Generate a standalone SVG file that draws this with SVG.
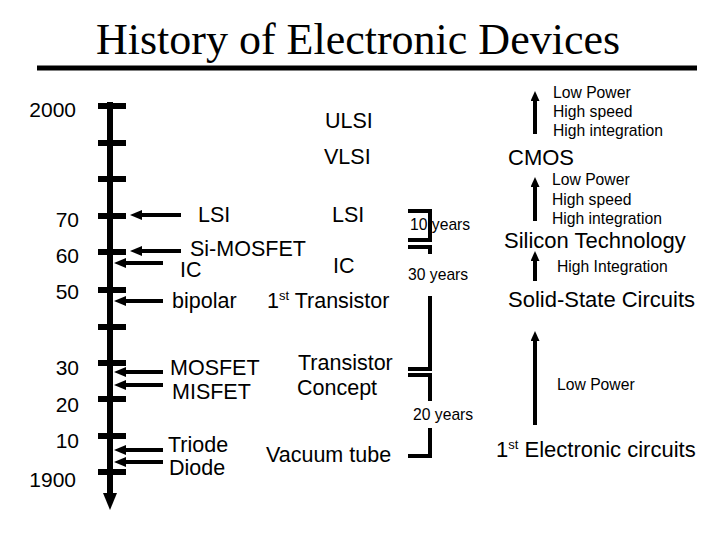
<svg xmlns="http://www.w3.org/2000/svg" width="720" height="540" viewBox="0 0 720 540">
<defs>
<style>
text{font-family:"Liberation Sans",Arial,sans-serif;fill:#000}
.t{font-size:21.5px}
.r{font-size:22px}
.s{font-size:15.7px}
.y{font-size:21px;text-anchor:end}
.title{font-family:"Liberation Serif","Times New Roman",serif;font-size:44px;text-anchor:middle}
.ar{stroke:#000;stroke-width:4;fill:none;marker-end:url(#ah)}
.up{stroke:#000;stroke-width:4;fill:none;marker-end:url(#uh)}
.br{stroke:#000;stroke-width:4;fill:none}
.tick{stroke:#000;stroke-width:6}
</style>
<marker id="ah" markerWidth="12" markerHeight="10" refX="6" refY="5" orient="auto" markerUnits="userSpaceOnUse"><path d="M0,0 L12,5 L0,10 z" fill="#000"/></marker>
<marker id="uh" markerWidth="10" markerHeight="9" refX="4" refY="4.5" orient="auto" markerUnits="userSpaceOnUse"><path d="M0,0 L10,4.5 L0,9 z" fill="#000"/></marker>
</defs>
<rect width="720" height="540" fill="#fff"/>
<g id="title">
<text class="title" x="358" y="54">History of Electronic Devices</text>
<line x1="37" y1="68" x2="697" y2="68" stroke="#000" stroke-width="5"/>
</g>
<g id="timeline">
<line x1="110" y1="102" x2="110" y2="496" stroke="#000" stroke-width="6"/>
<polygon points="103,493 117,493 110,510" fill="#000"/>
<line class="tick" x1="98" y1="106" x2="126" y2="106"/>
<line class="tick" x1="98" y1="143" x2="126" y2="143"/>
<line class="tick" x1="98" y1="179" x2="126" y2="179"/>
<line class="tick" x1="98" y1="216" x2="126" y2="216"/>
<line class="tick" x1="98" y1="252" x2="126" y2="252"/>
<line class="tick" x1="98" y1="290" x2="126" y2="290"/>
<line class="tick" x1="98" y1="327" x2="126" y2="327"/>
<line class="tick" x1="98" y1="363" x2="126" y2="363"/>
<line class="tick" x1="98" y1="399" x2="126" y2="399"/>
<line class="tick" x1="98" y1="436" x2="126" y2="436"/>
<line class="tick" x1="98" y1="472" x2="126" y2="472"/>
<text class="y" x="76" y="117">2000</text>
<text class="y" x="79" y="227">70</text>
<text class="y" x="79" y="263">60</text>
<text class="y" x="79" y="299">50</text>
<text class="y" x="79" y="375">30</text>
<text class="y" x="79" y="412">20</text>
<text class="y" x="79" y="448">10</text>
<text class="y" x="76" y="487">1900</text>
</g>
<g id="connectors">
<line class="ar" x1="181" y1="215" x2="136" y2="215"/>
<line class="ar" x1="181" y1="251" x2="136" y2="251"/>
<line class="ar" x1="163" y1="263" x2="120" y2="263"/>
<line class="ar" x1="163" y1="301" x2="120" y2="301"/>
<line class="ar" x1="163" y1="372" x2="120" y2="372"/>
<line class="ar" x1="163" y1="385" x2="120" y2="385"/>
<line class="ar" x1="163" y1="450" x2="120" y2="450"/>
<line class="ar" x1="163" y1="462" x2="120" y2="462"/>
<line class="up" x1="535" y1="134" x2="535" y2="97"/>
<line class="up" x1="535" y1="221" x2="535" y2="183"/>
<line class="up" x1="535" y1="281" x2="535" y2="257"/>
<line class="up" x1="535" y1="425" x2="535" y2="337"/>
<path class="br" d="M408,211 H430 V240 H408"/>
<path class="br" d="M408,247 H430 V254 M430,296 V369 H408"/>
<path class="br" d="M408,375 H430 V401 M430,428 V456 H408"/>
</g>
<g id="n-lsi-left"><text class="t" x="198" y="222">LSI</text></g>
<g id="n-si-mosfet"><text class="t" x="190" y="256">Si-MOSFET</text></g>
<g id="n-ic-left"><text class="t" x="180" y="277">IC</text></g>
<g id="n-bipolar"><text class="t" x="172" y="308">bipolar</text></g>
<g id="n-mosfet"><text class="t" x="170" y="375">MOSFET</text></g>
<g id="n-misfet"><text class="t" x="172" y="399">MISFET</text></g>
<g id="n-triode"><text class="t" x="168" y="452">Triode</text></g>
<g id="n-diode"><text class="t" x="169" y="475">Diode</text></g>
<g id="n-ulsi"><text class="t" x="325" y="128">ULSI</text></g>
<g id="n-vlsi"><text class="t" x="324" y="164">VLSI</text></g>
<g id="n-lsi-right"><text class="t" x="332" y="222">LSI</text></g>
<g id="n-ic-right"><text class="t" x="333" y="273">IC</text></g>
<g id="n-first-transistor"><text class="t" x="267" y="308">1<tspan font-size="13" dy="-8">st</tspan><tspan dy="8"> Transistor</tspan></text></g>
<g id="n-transistor-concept"><text class="t" x="298" y="370">Transistor</text><text class="t" x="297" y="395">Concept</text></g>
<g id="n-vacuum-tube"><text class="t" x="266" y="462">Vacuum tube</text></g>
<g id="n-10years"><text class="s" x="410" y="230">10 years</text></g>
<g id="n-30years"><text class="s" x="408" y="280">30 years</text></g>
<g id="n-20years"><text class="s" x="413" y="420">20 years</text></g>
<g id="n-props1"><text class="s" x="553" y="98">Low Power</text><text class="s" x="553" y="117">High speed</text><text class="s" x="553" y="136">High integration</text></g>
<g id="n-cmos"><text class="r" x="508" y="165">CMOS</text></g>
<g id="n-props2"><text class="s" x="552" y="185">Low Power</text><text class="s" x="552" y="205">High speed</text><text class="s" x="552" y="224">High integration</text></g>
<g id="n-silicon"><text class="r" x="504" y="248">Silicon Technology</text></g>
<g id="n-props3"><text class="s" x="557" y="272">High Integration</text></g>
<g id="n-solid-state"><text class="r" x="508" y="307">Solid-State Circuits</text></g>
<g id="n-props4"><text class="s" x="557" y="390">Low Power</text></g>
<g id="n-first-electronic"><text class="r" x="496" y="457">1<tspan font-size="13" dy="-8">st</tspan><tspan dy="8"> Electronic circuits</tspan></text></g>
</svg>
